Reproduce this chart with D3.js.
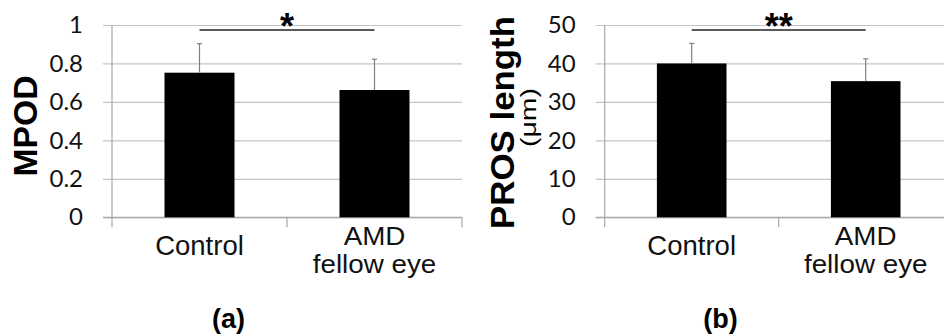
<!DOCTYPE html>
<html>
<head>
<meta charset="utf-8">
<script src="https://cdn.jsdelivr.net/npm/d3@7"></script>
<style>
  body { margin: 0; background: #fff; }
  svg { display: block; }
</style>
</head>
<body>
<div id="chart"></div>
<script>
// data
const categories = ["Control", "AMD fellow eye"];
const categoryLines = [["Control"], ["AMD", "fellow eye"]];

const mpodMean = [0.752, 0.662];
const mpodSD = [0.151, 0.160];
const mpodTicks = [0, 0.2, 0.4, 0.6, 0.8, 1];

const prosMean = [40.0, 35.4];
const prosSD = [5.2, 5.8];
const prosTicks = [0, 10, 20, 30, 40, 50];

const sigMarks = ["*", "**"];
const panelLabels = ["(a)", "(b)"];

const width = 944;
const height = 336;

const svg = d3.select("#chart")
    .append("svg")
    .attr("width", width)
    .attr("height", height);

svg.append("rect")
    .attr("width", width)
    .attr("height", height)
    .attr("fill", "#fff");

// panel layout
const panels = [
    {
        x0: 112, x1: 462, max: 1, ticks: mpodTicks, mean: mpodMean, sd: mpodSD,
        sig: sigMarks[0], label: panelLabels[0], labelX: 228.5,
        yTitle: "MPOD", titleX: 37, titleY: 126, titleLen: 101, titleSize: 33
    },
    {
        x0: 604.7, x1: 952.7, max: 50, ticks: prosTicks, mean: prosMean, sd: prosSD,
        sig: sigMarks[1], label: panelLabels[1], labelX: 720.5,
        yTitle: "PROS length", titleX: 514, titleY: 122.5, titleLen: 213, titleSize: 33,
        unit: "(μm)", unitX: 536, unitLen: 59
    }
];

const yTop = 25;
const yBottom = 217.3;
const gridColor = "#c4c4c4";
const axisColor = "#a8a8a8";
const sans = "'Liberation Sans', Arial, sans-serif";

panels.forEach(function (p) {
    const g = svg.append("g");

    const x = d3.scaleBand()
        .domain(categories)
        .range([p.x0, p.x1])
        .padding(0);

    const y = d3.scaleLinear()
        .domain([0, p.max])
        .range([yBottom, yTop]);

    // gridlines + tick labels
    const yAxis = d3.axisLeft(y)
        .tickValues(p.ticks)
        .tickFormat(d3.format("~g"))
        .tickSizeInner(-(p.x1 - p.x0 + 9))
        .tickSizeOuter(0)
        .tickPadding(20);

    const ag = g.append("g")
        .attr("transform", `translate(${p.x0 - 9},0)`)
        .call(yAxis);
    ag.select(".domain").remove();
    ag.selectAll(".tick line")
        .attr("stroke", gridColor)
        .attr("stroke-width", 1.2);
    ag.selectAll(".tick text")
        .attr("fill", "#111")
        .style("font-family", "Lato, sans-serif")
        .style("font-size", "24px");

    // y axis line
    g.append("line")
        .attr("x1", p.x0).attr("x2", p.x0)
        .attr("y1", yTop).attr("y2", yBottom + 10)
        .attr("stroke", axisColor)
        .attr("stroke-width", 1.2);

    // x axis line with category ticks
    g.append("line")
        .attr("x1", p.x0 - 9).attr("x2", p.x1)
        .attr("y1", yBottom).attr("y2", yBottom)
        .attr("stroke", axisColor)
        .attr("stroke-width", 1.2);

    const bounds = categories.map(c => x(c)).concat([p.x1]).slice(1);
    g.selectAll(".xtick")
        .data(bounds)
        .enter()
        .append("line")
        .attr("x1", d => d).attr("x2", d => d)
        .attr("y1", yBottom).attr("y2", yBottom + 10)
        .attr("stroke", axisColor)
        .attr("stroke-width", 1.2);

    const barW = x.bandwidth() * 0.4;
    const cx = c => x(c) + x.bandwidth() / 2;

    // bars
    g.selectAll(".bar")
        .data(categories)
        .enter()
        .append("rect")
        .attr("x", c => cx(c) - barW / 2)
        .attr("y", (c, i) => y(p.mean[i]))
        .attr("width", barW)
        .attr("height", (c, i) => y(0) - y(p.mean[i]))
        .attr("fill", "#000");

    // error bars (upper half only)
    g.selectAll(".err")
        .data(categories)
        .enter()
        .append("line")
        .attr("x1", cx).attr("x2", cx)
        .attr("y1", (c, i) => y(p.mean[i]))
        .attr("y2", (c, i) => y(p.mean[i] + p.sd[i]))
        .attr("stroke", "#808080")
        .attr("stroke-width", 1.2);

    g.selectAll(".cap")
        .data(categories)
        .enter()
        .append("line")
        .attr("x1", c => cx(c) - 2.5).attr("x2", c => cx(c) + 2.5)
        .attr("y1", (c, i) => y(p.mean[i] + p.sd[i]))
        .attr("y2", (c, i) => y(p.mean[i] + p.sd[i]))
        .attr("stroke", "#808080")
        .attr("stroke-width", 1.2);

    // significance bracket
    const sx1 = cx(categories[0]);
    const sx2 = cx(categories[1]);
    g.append("line")
        .attr("x1", sx1).attr("x2", sx2)
        .attr("y1", 30).attr("y2", 30)
        .attr("stroke", "#5a5a5a")
        .attr("stroke-width", 2);

    g.append("text")
        .attr("x", (sx1 + sx2) / 2)
        .attr("y", 39)
        .attr("text-anchor", "middle")
        .style("font-family", sans)
        .style("font-weight", "bold")
        .style("font-size", "36px")
        .text(p.sig);

    // category labels; two-line ones are set a bit smaller and widened
    categories.forEach(function (c, i) {
        const lines = categoryLines[i];
        if (lines.length === 1) {
            g.append("text")
                .attr("x", cx(c))
                .attr("y", 255)
                .attr("text-anchor", "middle")
                .style("font-family", sans)
                .style("font-size", "27.5px")
                .attr("fill", "#111")
                .text(lines[0]);
        } else {
            lines.forEach(function (line, j) {
                g.append("text")
                    .attr("transform", `translate(${cx(c)},${244.5 + j * 28.6}) scale(1.09,1)`)
                    .attr("text-anchor", "middle")
                    .style("font-family", sans)
                    .style("font-size", "25.5px")
                    .attr("fill", "#111")
                    .text(line);
            });
        }
    });

    // y title
    g.append("text")
        .attr("transform", `translate(${p.titleX},${p.titleY}) rotate(-90)`)
        .attr("text-anchor", "middle")
        .attr("textLength", p.titleLen)
        .attr("lengthAdjust", "spacingAndGlyphs")
        .style("font-family", sans)
        .style("font-weight", "bold")
        .style("font-size", p.titleSize + "px")
        .text(p.yTitle);

    if (p.unit) {
        g.append("text")
            .attr("transform", `translate(${p.unitX},117.5) rotate(-90)`)
            .attr("text-anchor", "middle")
            .attr("textLength", p.unitLen)
            .attr("lengthAdjust", "spacingAndGlyphs")
            .style("font-family", sans)
            .style("font-size", "22px")
            .text(p.unit);
    }

    // panel caption
    g.append("text")
        .attr("x", p.labelX)
        .attr("y", 328)
        .attr("text-anchor", "middle")
        .style("font-family", sans)
        .style("font-weight", "bold")
        .style("font-size", "27px")
        .text(p.label);
});
</script>
</body>
</html>
